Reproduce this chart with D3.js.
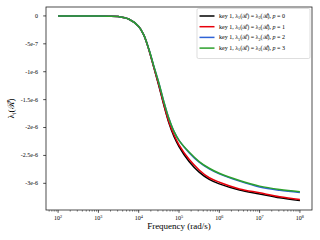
<!DOCTYPE html>
<html>
<head>
<meta charset="utf-8">
<script src="https://cdn.jsdelivr.net/npm/d3@7"></script>
<style>
  body { margin: 0; background: #fff; }
  svg { display: block; }
  text { font-family: "Liberation Serif", "DejaVu Serif", serif; fill: #000; }
</style>
</head>
<body>
<div id="chart"></div>
<script>
// log10 of frequency (rad/s)
const logFreq = [2, 2.5, 3, 3.25, 3.5, 3.75, 4, 4.125, 4.25, 4.375, 4.5, 4.625, 4.75, 4.875, 5, 5.25, 5.5, 5.75, 6, 6.5, 7, 7.5, 8];

// eigenvalue, in units of 1e-6
const seriesP0 = [0, 0, -0.002, -0.005, -0.012, -0.055, -0.19, -0.34, -0.60, -0.92, -1.25, -1.60, -1.92, -2.16, -2.34, -2.61, -2.80, -2.93, -3.01, -3.12, -3.19, -3.26, -3.31];
const seriesP1 = [0, 0, -0.002, -0.005, -0.012, -0.055, -0.19, -0.34, -0.60, -0.92, -1.24, -1.59, -1.90, -2.13, -2.31, -2.57, -2.76, -2.90, -2.98, -3.10, -3.17, -3.24, -3.29];
const seriesP2 = [0, 0, -0.002, -0.005, -0.012, -0.055, -0.19, -0.34, -0.59, -0.90, -1.20, -1.54, -1.84, -2.07, -2.23, -2.45, -2.62, -2.74, -2.83, -2.96, -3.065, -3.125, -3.165];
const seriesP3 = [0, 0, -0.002, -0.005, -0.012, -0.055, -0.19, -0.34, -0.59, -0.90, -1.20, -1.54, -1.84, -2.07, -2.23, -2.44, -2.61, -2.73, -2.82, -2.95, -3.05, -3.11, -3.15];

const seriesNames = ["p = 0", "p = 1", "p = 2", "p = 3"];
const seriesColors = ["#000000", "#e8000b", "#2f63d6", "#2ca02c"];

const yTicks = [0, -0.5e-6, -1e-6, -1.5e-6, -2e-6, -2.5e-6, -3e-6];
const yTickLabels = ["0", "-5e-7", "-1e-6", "-1.5e-6", "-2e-6", "-2.5e-6", "-3e-6"];
const xTickExps = [2, 3, 4, 5, 6, 7, 8];

const W = 320, H = 240;
const margin = { top: 7, right: 8, bottom: 30, left: 46 };
const width = W - margin.left - margin.right;
const height = H - margin.top - margin.bottom;

const svg = d3.select("#chart").append("svg")
    .attr("width", W)
    .attr("height", H);

const g = svg.append("g")
    .attr("transform", `translate(${margin.left},${margin.top})`);

const x = d3.scaleLog()
    .domain([Math.pow(10, 1.7), Math.pow(10, 8.3)])
    .range([0, width]);

const y = d3.scaleLinear()
    .domain([-3.478e-6, 1.6e-7])
    .range([height, 0]);

// minor ticks on x
const minorTicks = [];
for (let e = 1; e <= 8; e++) {
    for (let m = 2; m <= 9; m++) {
        const v = m * Math.pow(10, e);
        if (v >= x.domain()[0] && v <= x.domain()[1]) minorTicks.push(v);
    }
}

const xAxis = g.append("g")
    .attr("transform", `translate(0,${height})`);

xAxis.selectAll(".minor")
    .data(minorTicks)
  .enter().append("line")
    .attr("x1", d => x(d)).attr("x2", d => x(d))
    .attr("y1", 0).attr("y2", 1.6)
    .attr("stroke", "#000").attr("stroke-width", 0.5);

const xt = xAxis.selectAll(".major")
    .data(xTickExps)
  .enter().append("g")
    .attr("transform", d => `translate(${x(Math.pow(10, d))},0)`);
xt.append("line").attr("y1", 0).attr("y2", 2.8)
    .attr("stroke", "#000").attr("stroke-width", 0.7);
const xl = xt.append("text")
    .attr("y", 10)
    .attr("text-anchor", "middle")
    .style("font-size", "6px");
xl.append("tspan").text("10");
xl.append("tspan").attr("dy", -2.5).style("font-size", "4.2px").text(d => d);

// y axis
const yt = g.append("g").selectAll("g")
    .data(yTicks)
  .enter().append("g")
    .attr("transform", d => `translate(0,${y(d)})`);
yt.append("line").attr("x1", -2.8).attr("x2", 0)
    .attr("stroke", "#000").attr("stroke-width", 0.7);
yt.append("text")
    .attr("x", -8)
    .attr("dy", "0.32em")
    .attr("text-anchor", "end")
    .style("font-size", "6px")
    .text((d, i) => yTickLabels[i]);

// lines
const allSeries = [seriesP0, seriesP1, seriesP2, seriesP3];
const line = d3.line()
    .x((d, i) => x(Math.pow(10, logFreq[i])))
    .y(d => y(d * 1e-6))
    .curve(d3.curveCatmullRom.alpha(0.5));

g.selectAll(".series")
    .data(allSeries)
  .enter().append("path")
    .attr("d", line)
    .attr("fill", "none")
    .attr("stroke", (d, i) => seriesColors[i])
    .attr("stroke-width", 1.5);

// frame
g.append("rect")
    .attr("width", width).attr("height", height)
    .attr("fill", "none")
    .attr("stroke", "#222").attr("stroke-width", 0.8);

// axis labels
svg.append("text")
    .attr("x", margin.left + width / 2)
    .attr("y", 229)
    .attr("text-anchor", "middle")
    .style("font-size", "9px")
    .text("Frequency (rad/s)");

const yl = svg.append("text")
    .attr("transform", `translate(14,${margin.top + height / 2}) rotate(-90)`)
    .attr("text-anchor", "middle")
    .style("font-size", "9px");
yl.append("tspan").text("λ");
yl.append("tspan").attr("dy", 2).style("font-size", "6px").style("font-style", "italic").text("i");
yl.append("tspan").attr("dy", -2).text("(ℛ\u0302)");

// legend
const legend = svg.append("g").attr("transform", "translate(197,8.5)");
legend.append("rect")
    .attr("width", 113).attr("height", 50)
    .attr("rx", 1.5)
    .attr("fill", "#fff")
    .attr("stroke", "#d0d0d0").attr("stroke-width", 0.7);

const items = legend.selectAll(".item")
    .data(seriesNames)
  .enter().append("g")
    .attr("transform", (d, i) => `translate(0,${7.5 + i * 10.7})`);
items.append("line")
    .attr("x1", 2.5).attr("x2", 17.5)
    .attr("stroke", (d, i) => seriesColors[i])
    .attr("stroke-width", 1.5);
const lt = items.append("text")
    .attr("x", 22)
    .attr("dy", "0.32em")
    .style("font-size", "6px");
lt.append("tspan").text("key 1, λ");
lt.append("tspan").attr("dy", 1.2).style("font-size", "4.2px").text("1");
lt.append("tspan").attr("dy", -1.2).text("(ℛ\u0302) = λ");
lt.append("tspan").attr("dy", 1.2).style("font-size", "4.2px").text("2");
lt.append("tspan").attr("dy", -1.2).text("(ℛ\u0302), ");
lt.append("tspan").style("font-style", "italic").text("p");
lt.append("tspan").text(d => " = " + d.split("= ")[1]);
</script>
</body>
</html>
